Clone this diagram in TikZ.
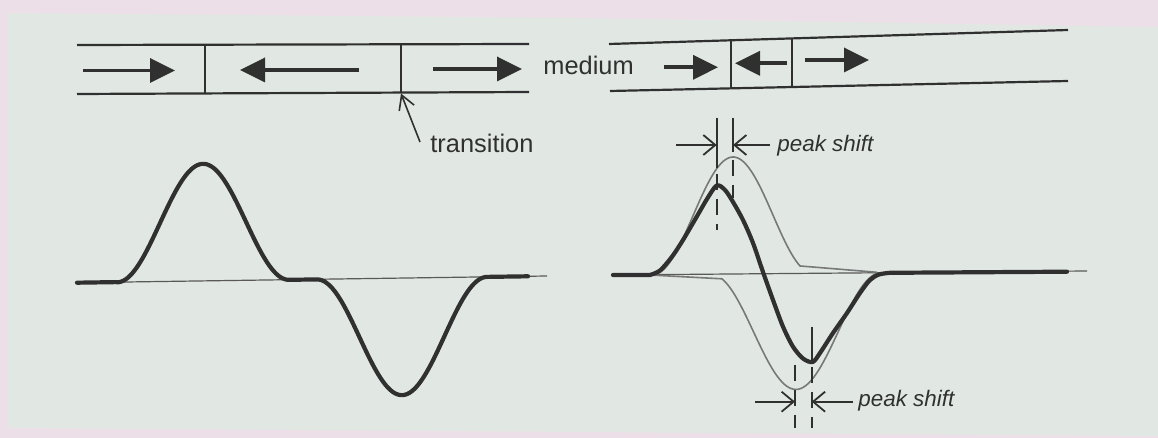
\documentclass[tikz,border=0pt]{standalone}
\usepackage{fontspec}
\setmainfont{Liberation Sans}
\usetikzlibrary{arrows.meta}
\definecolor{pagebg}{RGB}{225,232,228}
\definecolor{pinkbg}{RGB}{236,223,231}
\definecolor{ink}{RGB}{48,48,48}
\definecolor{thinink}{RGB}{120,120,120}
\tikzset{
  trackline/.style={draw=ink, line width=1.1pt},
  sepline/.style={draw=ink, line width=0.8pt},
  trackarrow/.style={draw=ink, line width=1.8pt, -{Triangle[length=12.5pt,width=12pt]}},
  lbl/.style={text=ink, inner sep=0pt, font=\fontsize{12.7}{15}\selectfont},
  pslbl/.style={text=ink, inner sep=0pt, font=\fontsize{11.2}{13}\selectfont\itshape},
  thickwave/.style={draw=ink, line width=2.1pt, line join=round, line cap=round},
  thinwave/.style={draw=thinink, line width=0.8pt},
  baseline/.style={draw=ink!80, line width=0.6pt},
  barbarrow/.style={draw=ink, line width=0.9pt, -{Straight Barb[length=6pt,width=10pt]}},
  transarrow/.style={draw=ink, line width=0.8pt, -{Straight Barb[length=7pt,width=8pt]}},
  solidmark/.style={draw=ink, line width=0.8pt},
  dashmark/.style={draw=ink, line width=0.8pt, dash pattern=on 8pt off 4.5pt}
}
\begin{document}
\begin{tikzpicture}[x=0.5pt,y=-0.5pt]
\useasboundingbox (0,0) rectangle (1158,438);
\fill[pinkbg] (0,0) rectangle (1158,438);
\fill[pagebg] (8,13) -- (580,18) -- (1158,27) -- (1158,436) -- (8,428) -- cycle;

% ---------- left track ----------
\coordinate (LT1) at (77,45);  \coordinate (LT2) at (529,44);
\coordinate (LB1) at (77,94);  \coordinate (LB2) at (529,92);
\draw[trackline] (LT1) -- (LT2);
\draw[trackline] (LB1) -- (LB2);
\coordinate (s1t) at (205,45); \coordinate (s1b) at (205,94);
\coordinate (s2t) at (401,44); \coordinate (s2b) at (401,93.5);
\draw[sepline] (s1t) -- (s1b);
\draw[sepline] (s2t) -- (s2b);
\coordinate (a1s) at (83,70.5);  \coordinate (a1e) at (175,70.5);
\coordinate (a2s) at (359,70);   \coordinate (a2e) at (240,70);
\coordinate (a3s) at (433,69);   \coordinate (a3e) at (522,69);
\draw[trackarrow] (a1s) -- (a1e);
\draw[trackarrow] (a2s) -- (a2e);
\draw[trackarrow] (a3s) -- (a3e);
\node[lbl, anchor=base west] (medium) at (543,75) {medium};
\node[lbl, anchor=base west] (transition) at (430,153) {transition};
\coordinate (trtail) at (420,142);
\draw[transarrow] (trtail) -- (s2b);

% ---------- right track ----------
\coordinate (RT1) at (609,44);  \coordinate (RT2) at (1068,30);
\coordinate (RB1) at (610,91);  \coordinate (RB2) at (1068,81);
\draw[trackline] (RT1) -- (RT2);
\draw[trackline] (RB1) -- (RB2);
\coordinate (r1t) at (731,40.3); \coordinate (r1b) at (731,88.4);
\coordinate (r2t) at (792,38.4); \coordinate (r2b) at (792,87);
\draw[sepline] (r1t) -- (r1b);
\draw[sepline] (r2t) -- (r2b);
\coordinate (b1s) at (664,67.3); \coordinate (b1e) at (718,67.3);
\coordinate (b2s) at (787,63.3); \coordinate (b2e) at (735,63.3);
\coordinate (b3s) at (805,60);   \coordinate (b3e) at (869,60);
\draw[trackarrow] (b1s) -- (b1e);
\draw[trackarrow] (b2s) -- (b2e);
\draw[trackarrow] (b3s) -- (b3e);

% ---------- left waveform ----------
\draw[baseline] (77,282.7) -- (547,276);
\draw[thickwave] (77,282.7) -- (117,282.1)
  -- plot[domain=117:289,samples=80] (\x,{283-7*(\x-77)/470-117.3*(0.5+0.5*cos(180*(\x-203)/86))})
  -- (317,279.4)
  -- plot[domain=317:487,samples=80] (\x,{283-7*(\x-77)/470+117*(0.5+0.5*cos(180*(\x-402)/85))})
  -- (528,276.3);

% ---------- right waveform ----------
\draw[baseline] (613,275) -- (1087,271);
\draw[thinwave] plot[domain=653:800,samples=70] (\x,{275-4*(\x-613)/474-117*(0.5+0.5*cos(180*(\x-733)/80))}) -- (877,272.3);
\draw[thinwave] (650,275) -- plot[domain=722:881,samples=70] (\x,{275-4*(\x-613)/474+116*(0.5+0.5*cos(180*(\x-796)/85))});
\draw[thickwave] (613,275) -- (650,275)
  -- plot[smooth,tension=0.5] coordinates {(650,275) (660,270.5) (672,256.7) (683,240) (696.7,216.7) (707,199) (716.7,185.5) (725,190) (733,202) (743,220) (753,243) (763,272) (773,300) (783,326.7) (793,346.7) (803,358.5) (812.7,362) (820,353) (833,333) (847,313) (860,293) (870,280) (879,274.5) (890,272.8)}
  -- (1067,271.7);

% ---------- peak shift markers (upper) ----------
\coordinate (u1a) at (716.7,118); \coordinate (u1b) at (716.7,168);
\coordinate (u1c) at (716.7,174); \coordinate (u1d) at (716.7,230);
\coordinate (u2a) at (733,118);   \coordinate (u2b) at (733,152);
\coordinate (u2c) at (733,160);   \coordinate (u2d) at (733,198);
\draw[solidmark] (u1a) -- (u1b);
\draw[dashmark] (u1c) -- (u1d);
\draw[solidmark] (u2a) -- (u2b);
\draw[dashmark] (u2c) -- (u2d);
\coordinate (ul) at (676,145);   \coordinate (ult) at (716.7,145);
\coordinate (ur) at (770,145);   \coordinate (urt) at (733,145);
\draw[barbarrow] (ul) -- (ult);
\draw[barbarrow] (ur) -- (urt);
\node[pslbl, anchor=base west] (ps1) at (777,151.7) {peak shift};

% ---------- peak shift markers (lower) ----------
\coordinate (d1c) at (795,365);   \coordinate (d1d) at (795,428);
\coordinate (d2a) at (811.7,327); \coordinate (d2b) at (811.7,360);
\coordinate (d2c) at (811.7,367); \coordinate (d2d) at (811.7,428);
\draw[dashmark] (d1c) -- (d1d);
\draw[solidmark] (d2a) -- (d2b);
\draw[dashmark] (d2c) -- (d2d);
\coordinate (dl) at (755,401.7); \coordinate (dlt) at (795,401.7);
\coordinate (dr) at (853,401.7); \coordinate (drt) at (811.7,401.7);
\draw[barbarrow] (dl) -- (dlt);
\draw[barbarrow] (dr) -- (drt);
\node[pslbl, anchor=base west] (ps2) at (858,407) {peak shift};
\end{tikzpicture}
\end{document}
